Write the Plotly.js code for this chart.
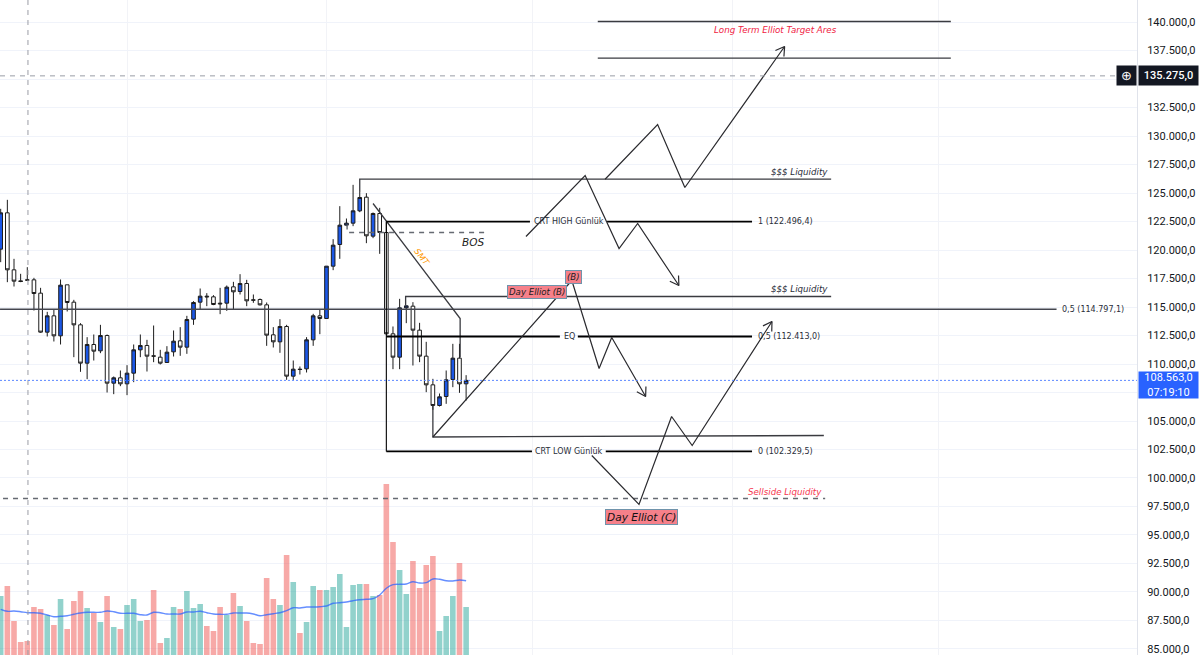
<!DOCTYPE html>
<html><head><meta charset="utf-8">
<script src="https://cdn.plot.ly/plotly-3.0.1.min.js"></script>
<style>html,body{margin:0;padding:0;background:#fff}#c{width:1200px;height:655px}</style>
</head><body><div id="c"></div>
<script>
const opens=[120073,123261,118260,117295,117383,117383,116214,112793,114225,112471,116945,115424,113436,110073,111711,111155,112500,108319,108787,108260,109196,111243,111623,110716,110600,110132,111067,112032,111477,113933,115424,115951,115892,115336,115336,116769,116360,117061,115629,115658,115190,112559,111945,113290,108933,109547,109576,112120,114225,113992,118582,120483,122179,122354,123436,124635,121214,123202,121535,112646,110600,114927,115073,112968,110687,108172,106360,107149,108641,110512,108260];
const highs=[123611,124401,119225,117910,118494,117559,116681,114576,114752,117413,116945,115629,113582,112354,112588,113436,112588,108904,109430,109898,111711,112588,112120,113377,111243,111565,112939,113231,114225,115512,116623,116214,116038,116681,116886,117208,117880,117383,116097,115746,115395,113231,113933,113436,110307,109781,112354,114401,114752,118582,120951,123845,122763,125717,125161,124986,123290,123699,122442,113290,115716,115132,115424,113611,111945,108699,107412,109430,111769,111769,109021];
const lows=[118933,117179,116798,117179,117325,114693,112734,112412,111974,111711,114606,110600,109313,108670,110307,110950,107500,107354,108056,107267,108407,110600,109342,110161,109956,110102,110658,110717,110892,113436,114781,115073,115161,114372,114664,114781,116097,115073,115366,115132,111594,111448,110980,108611,108611,109079,109255,111594,112617,113992,118231,119225,122091,122091,123319,120600,121038,119664,112588,109547,109547,113582,109868,110161,107529,105980,106272,106506,107968,107471,106798];
const closes=[123261,118260,117266,117237,117354,116184,112793,114225,112471,116915,115395,113436,110073,111711,111126,112500,108319,108787,108260,109196,111243,111623,110687,110687,110073,111038,112003,111477,113904,115395,115951,115892,115220,115278,116740,116331,117061,115541,115600,115190,112529,111945,113290,108933,109547,109518,112120,114225,113992,118582,120424,122179,122354,123436,124606,121243,123202,121535,112646,110600,114927,115102,112968,110687,108172,106360,107120,108611,110512,108260,108563];
const volumes=[59,69,34,13,14,48,46,40,30,56,26,54,64,47,42,33,59,28,26,50,56,34,35,65,12,17,48,46,64,47,51,29,24,48,40,62,49,34,12,11,77,56,50,100,73,22,33,69,65,65,68,81,28,70,71,71,59,60,171,113,85,61,94,67,90,99,24,39,59,92,48];
const volumeMA=[45.7,43.7,44,43.3,42.3,42.3,41.7,40,38.3,38.7,39.3,40.7,42,42.7,42.7,42.7,44,43.3,41.7,41.7,41.7,40.3,40,42.7,42.3,41,41,41,43,43,43.7,42.3,41,40.7,40.7,42,42,42,41,39.3,40.3,41.3,42.3,44.3,47.3,47,48,48,48.3,49,51.7,52.3,53,54.3,55.3,55.7,56.3,60,66.7,70.3,70.7,71,73.3,72,72.3,76,75.7,74.3,74,75,74.3];
const bars=opens.map((_,i)=>i);
const crosshairBar=4.1, crosshairPrice=135275, lastPrice=108563;
const gridBars=[19,49,80,110,141];
const priceTicks=[85000,87500,90000,92500,95000,97500,100000,102500,105000,110000,112500,115000,117500,120000,122500,125000,127500,130000,132500,137500,140000];
const coveredTicks=[107500,135000];

const thinX=[89.8,142.9,null,89.8,142.9,null,54,54,124.9,null,60.9,60.9,124.9,null,56,69.1,69.1,null,65,65,123.8];
const thinY=[140044,140044,null,136824,136824,null,125131,126210,126210,null,115131,115920,115920,null,124079,113991,110570,null,106359,103596,103728];
const crtX=[58,79.6,null,91.2,113,null,58,84.1,null,86.8,113,null,58,79.9,null,91,113];
const crtY=[122496,122496,null,122496,122496,null,112413,112413,null,112413,112413,null,102329,102329,null,102329,102329];
const crtEdgeX=[58,58], crtEdgeY=[122496,102329];
const fibX=[-0.1,158.8], fibY=[114797,114797];
const dashX=[52.1,52.1,73.1,null,0.35,124];
const dashY=[122237,121535,121535,null,98201,98201];
const pathA=[[90.9,98.8,102.9,117.9],[126210,131009,125482,137851]];
const pathB=[[79,87.9,93,95.8,102],[121184,126535,120131,122324,116886]];
const pathC=[[65,85.9,90,91.9,97],[103596,117324,109605,112324,107149]];
const pathD=[[88.9,96,100.9,104,116],[101973,97675,105394,102850,113728]];

const ink='#2a2a2e';
const xRange=[-0.105,170.9], yRange=[84473,141930];
const pxPerBar=1137/(xRange[1]-xRange[0]), pxPerPrice=655/(yRange[1]-yRange[0]);
function arrowPath(p){
  // open V arrow head: two barbs from the last point, sized in screen pixels
  const n=p[0].length, ex=p[0][n-1], ey=p[1][n-1];
  const dx=(p[0][n-2]-ex)*pxPerBar, dy=(p[1][n-2]-ey)*pxPerPrice, len=Math.hypot(dx,dy);
  const xs=p[0].slice(), ys=p[1].slice();
  [0.55,-0.55].forEach(a=>{
    const c=Math.cos(a), s=Math.sin(a), bx=(dx*c-dy*s)/len*10, by=(dx*s+dy*c)/len*10;
    xs.push(null,ex,ex+bx/pxPerBar); ys.push(null,ey,ey+by/pxPerPrice);
  });
  return {type:'scatter',mode:'lines',x:xs,y:ys,yaxis:'y2',hoverinfo:'skip',line:{color:ink,width:1.2}};
}
const data=[
 {type:'bar',x:bars,y:volumes,yaxis:'y',hoverinfo:'skip',
  marker:{color:closes.map((c,i)=>c>=opens[i]?'rgba(38,166,154,0.5)':'rgba(239,83,80,0.5)'),line:{width:0}}},
 {type:'scatter',mode:'lines',x:bars,y:volumeMA,yaxis:'y',hoverinfo:'skip',line:{color:'rgba(41,98,255,0.72)',width:1.4,shape:'spline'}},
 {type:'scatter',mode:'lines',x:fibX,y:fibY,yaxis:'y2',hoverinfo:'skip',line:{color:'#44464f',width:1.6}},
 {type:'scatter',mode:'lines',x:dashX,y:dashY,yaxis:'y2',hoverinfo:'skip',line:{color:'#666a72',width:1.4,dash:'5px,5px'}},
 {type:'candlestick',x:bars,open:opens,high:highs,low:lows,close:closes,yaxis:'y2',hoverinfo:'skip',
  increasing:{line:{color:'#1c1c1c',width:1},fillcolor:'#1b57e6'},
  decreasing:{line:{color:'#1c1c1c',width:1},fillcolor:'#ffffff'}},
 {type:'scatter',mode:'lines',x:thinX,y:thinY,yaxis:'y2',hoverinfo:'skip',line:{color:'#3a3b40',width:1.3}},
 {type:'scatter',mode:'lines',x:crtX,y:crtY,yaxis:'y2',hoverinfo:'skip',line:{color:'#000000',width:1.8}},
 {type:'scatter',mode:'lines',x:crtEdgeX,y:crtEdgeY,yaxis:'y2',hoverinfo:'skip',line:{color:'#000000',width:1.1}},
 arrowPath(pathA),arrowPath(pathB),arrowPath(pathC),arrowPath(pathD)
];
const labelFont={family:'DejaVu Sans',size:8,color:'#2a2e39'};
const italic=(size,color,weight)=>({family:'DejaVu Sans',size:size,color:color,style:'italic',weight:weight||400});
function note(x,y,text,font,extra){return Object.assign({x:x,y:y,xref:'x',yref:'y2',text:text,showarrow:false,font:font,xanchor:'center',yanchor:'middle'},extra||{});}
const pink='#f6808a', pinkEdge='#6f93ab';
const annotations=[
 note(116.5,139342,'Long Term Elliot Target Ares',italic(8.7,'#f0213f')),
 note(120.2,126886,'$$$ Liquidity',italic(8.7,'#2a2e39')),
 note(120.2,116623,'$$$ Liquidity',italic(8.7,'#2a2e39')),
 note(118,98815,'Sellside Liquidity',italic(8.7,'#f5364f')),
 note(71,120745,'BOS',italic(10.5,'#1c1c1c')),
 note(63.4,119430,'SMT',italic(8.5,'#ff9800'),{textangle:52}),
 note(85.5,122496,'CRT HIGH Günlük',labelFont),
 note(85.5,112413,'EQ',labelFont),
 note(85.5,102329,'CRT LOW Günlük',labelFont),
 note(113.6,122496,'1 (122.496,4)',labelFont,{xanchor:'left'}),
 note(113.6,112413,'0,5 (112.413,0)',labelFont,{xanchor:'left'}),
 note(113.6,102329,'0 (102.329,5)',labelFont,{xanchor:'left'}),
 note(159.3,114797,'0,5 (114.797,1)',labelFont,{xanchor:'left'}),
 note(80.7,116359,'Day Elliot (B)',italic(8.6,'#1c1c1c'),{bgcolor:pink,bordercolor:pinkEdge,borderwidth:1,borderpad:1}),
 note(86.1,117675,'(B)',italic(8.6,'#1c1c1c'),{bgcolor:pink,bordercolor:pinkEdge,borderwidth:1,borderpad:1}),
 note(96.4,96622,'Day Elliot (C)',italic(10.6,'#111111'),{bgcolor:pink,bordercolor:pinkEdge,borderwidth:1,borderpad:1}),
 {xref:'paper',x:1,xanchor:'left',xshift:1,yref:'y2',y:crosshairPrice,yanchor:'middle',showarrow:false,text:'135.275,0',
  width:57,height:17,bgcolor:'#131722',font:{family:'Roboto',size:11,color:'#ffffff',weight:500}},
 {xref:'paper',x:1,xanchor:'right',yref:'y2',y:crosshairPrice,yanchor:'middle',showarrow:false,text:'⊕',
  width:17,height:17,bgcolor:'#131722',font:{family:'DejaVu Sans',size:13,color:'#ffffff'}},
 {xref:'paper',x:1,xanchor:'left',xshift:1,yref:'y2',y:lastPrice,yanchor:'top',yshift:9,showarrow:false,
  text:'108.563,0<br>07:19:10',align:'center',width:57,height:24,bgcolor:'#2962ff',font:{family:'Roboto',size:11,color:'#ffffff'}}
];
const shapes=[
 {type:'line',xref:'x',yref:'paper',x0:crosshairBar,x1:crosshairBar,y0:0,y1:1,layer:'above',line:{color:'#9a9da6',width:1,dash:'5px,5px'}},
 {type:'line',xref:'paper',yref:'y2',x0:0,x1:1,y0:crosshairPrice,y1:crosshairPrice,layer:'above',line:{color:'#9a9da6',width:1,dash:'5px,5px'}},
 {type:'line',xref:'paper',yref:'y2',x0:0,x1:1,y0:lastPrice,y1:lastPrice,layer:'above',line:{color:'#5b87ff',width:1,dash:'2px,2px'}}
];
const layout={
 width:1200,height:655,margin:{l:0,r:63,t:0,b:0},paper_bgcolor:'#fff',plot_bgcolor:'#fff',showlegend:false,
 separators:',.',boxgap:0.22,bargap:0.16,hovermode:false,dragmode:false,
 xaxis:{range:xRange,tickmode:'array',tickvals:gridBars,showticklabels:false,ticks:'',showgrid:true,gridcolor:'#f2f3f7',gridwidth:1,zeroline:false,rangeslider:{visible:false},fixedrange:true},
 yaxis:{range:[0,655],visible:false,showgrid:false,fixedrange:true},
 yaxis2:{range:yRange,overlaying:'y',side:'right',tickmode:'array',tickvals:priceTicks,tickformat:',.1f',showgrid:true,gridcolor:'#f0f3fa',gridwidth:1,zeroline:false,
   minor:{tickmode:'array',tickvals:coveredTicks,showgrid:true,gridcolor:'#f0f3fa',gridwidth:1,ticks:''},
   showline:true,linecolor:'#e0e3eb',linewidth:1,ticks:'outside',ticklen:7,tickcolor:'rgba(0,0,0,0)',ticklabeloverflow:'allow',
   tickfont:{family:'Roboto',size:11,color:'#131722'},fixedrange:true},
 annotations:annotations,shapes:shapes
};
Plotly.newPlot('c',data,layout,{displayModeBar:false,staticPlot:true});
</script></body></html>
